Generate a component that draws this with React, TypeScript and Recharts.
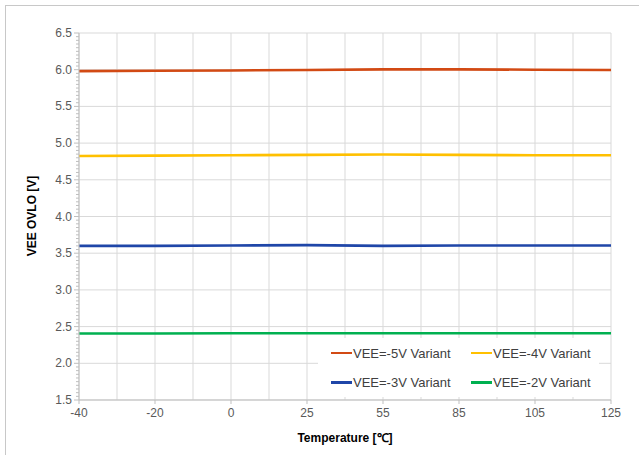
import { LineChart, Line, XAxis, YAxis, CartesianGrid } from 'recharts';

const temps = ['-40', '-20', '0', '25', '55', '85', '105', '125'];
const vee5 = [5.98, 5.985, 5.99, 5.995, 6.005, 6.005, 6.0, 5.995];
const vee4 = [4.825, 4.83, 4.835, 4.84, 4.845, 4.84, 4.835, 4.835];
const vee3 = [3.6, 3.6, 3.605, 3.61, 3.6, 3.605, 3.605, 3.605];
const vee2 = [2.405, 2.405, 2.41, 2.41, 2.41, 2.41, 2.41, 2.41];

const yMajor = [1.5, 2.0, 2.5, 3.0, 3.5, 4.0, 4.5, 5.0, 5.5, 6.0, 6.5];
const yMinorStep = 0.05;

const series = [
  { key: 'v5', name: 'VEE=-5V Variant', color: '#D24A14', values: vee5 },
  { key: 'v4', name: 'VEE=-4V Variant', color: '#FFC000', values: vee4 },
  { key: 'v3', name: 'VEE=-3V Variant', color: '#1F46A8', values: vee3 },
  { key: 'v2', name: 'VEE=-2V Variant', color: '#00B050', values: vee2 },
];

const data = temps.map((t, i) => {
  const row: Record<string, string | number> = { t };
  series.forEach((s) => (row[s.key] = s.values[i]));
  return row;
});

const yTicks: number[] = [];
for (let v = yMajor[0]; v <= yMajor[yMajor.length - 1] + 1e-9; v += yMinorStep) {
  yTicks.push(Math.round(v * 100) / 100);
}

const FONT = '"Liberation Sans", Arial, sans-serif';
const GRID = '#d9d9d9';
const AXIS = '#bfbfbf';

const YTick = (props: any) => {
  const { x, y, payload } = props;
  const v = payload.value as number;
  const major = Math.abs(v * 2 - Math.round(v * 2)) < 1e-6;
  return (
    <g>
      <line x1={x - (major ? 5 : 3)} x2={x} y1={y} y2={y} stroke={AXIS} strokeWidth={1} />
      {major && (
        <text x={x - 7} y={y} dy={4} textAnchor="end" fontSize={12} fill="#595959" fontFamily={FONT}>
          {v.toFixed(1)}
        </text>
      )}
    </g>
  );
};

const LegendBox = () => (
  <div
    style={{
      position: 'absolute',
      left: 318,
      top: 338,
      background: '#fff',
      width: 281,
      height: 59,
      display: 'grid',
      gridTemplateColumns: '140px 140px',
      gridTemplateRows: '30px 29px',
      paddingLeft: 13,
      boxSizing: 'border-box',
      fontFamily: FONT,
      fontSize: 13,
      color: '#404040',
    }}
  >
    {series.map((s) => (
      <div key={s.key} style={{ display: 'flex', alignItems: 'center', whiteSpace: 'nowrap' }}>
        <span style={{ display: 'inline-block', width: 21, height: 2.5, background: s.color, marginRight: 1 }} />
        <span>{s.name}</span>
      </div>
    ))}
  </div>
);

export default function App() {
  return (
    <div style={{ position: 'absolute', left: 0, top: 0, width: 639, height: 455, background: '#fff' }}>
      <div
        style={{
          position: 'absolute',
          left: 5,
          top: 5,
          right: 0,
          bottom: 0,
          borderTop: '1px solid #c8c8c8',
          borderLeft: '1px solid #c8c8c8',
        }}
      />
      <LineChart width={639} height={455} data={data} margin={{ top: 33, right: 28, bottom: 25, left: 29 }}>
        <CartesianGrid
          stroke={GRID}
          verticalCoordinatesGenerator={({ offset }: any) => {
            const pts: number[] = [];
            for (let i = 0; i <= (temps.length - 1) * 2; i++) {
              pts.push(offset.left + (offset.width * i) / ((temps.length - 1) * 2));
            }
            return pts;
          }}
          horizontalCoordinatesGenerator={({ offset }: any) => {
            const lo = yMajor[0];
            const hi = yMajor[yMajor.length - 1];
            return yMajor.map((v) => offset.top + (offset.height * (hi - v)) / (hi - lo));
          }}
        />
        <XAxis
          dataKey="t"
          height={30}
          stroke={AXIS}
          tickSize={4}
          tickMargin={4}
          interval={0}
          tick={{ fontSize: 12, fill: '#595959', fontFamily: FONT }}
        />
        <YAxis
          width={50}
          domain={[yMajor[0], yMajor[yMajor.length - 1]]}
          ticks={yTicks}
          interval={0}
          stroke={AXIS}
          tickSize={0}
          tickMargin={0}
          tickLine={false}
          tick={<YTick />}
        />
        {series.map((s) => (
          <Line
            key={s.key}
            type="linear"
            dataKey={s.key}
            name={s.name}
            stroke={s.color}
            strokeWidth={2.6}
            dot={false}
            activeDot={false}
            isAnimationActive={false}
          />
        ))}
      </LineChart>
      <LegendBox />
      <div
        style={{
          position: 'absolute',
          left: 32,
          top: 216,
          transform: 'translate(-50%, -50%) rotate(-90deg)',
          whiteSpace: 'nowrap',
          fontFamily: FONT,
          fontWeight: 'bold',
          fontSize: 12,
          color: '#000',
        }}
      >
        VEE OVLO [V]
      </div>
      <div
        style={{
          position: 'absolute',
          left: 345,
          top: 437,
          transform: 'translate(-50%, -50%)',
          whiteSpace: 'nowrap',
          fontFamily: FONT,
          fontWeight: 'bold',
          fontSize: 12,
          color: '#000',
        }}
      >
        Temperature [℃]
      </div>
    </div>
  );
}
